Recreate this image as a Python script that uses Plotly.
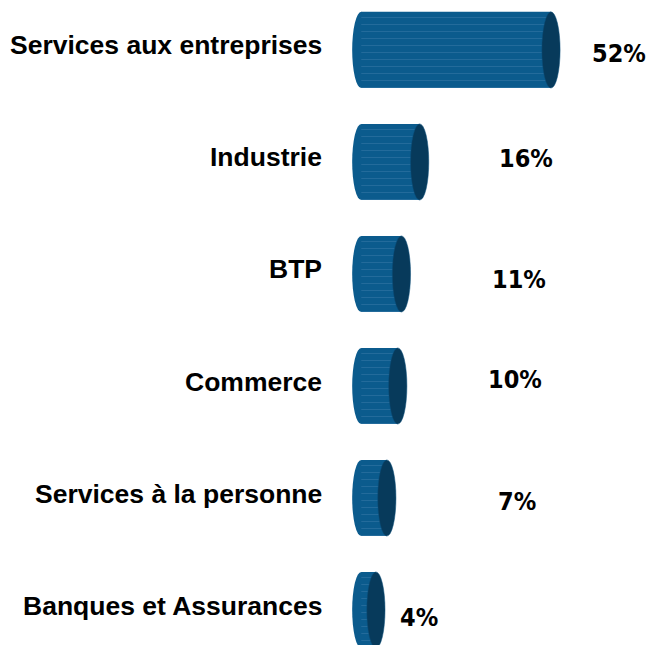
import plotly.graph_objects as go

categories = ["Services aux entreprises", "Industrie", "BTP", "Commerce",
              "Services à la personne", "Banques et Assurances"]
values = [52, 16, 11, 10, 7, 4]
value_labels = ["52%", "16%", "11%", "10%", "7%", "4%"]

# label placement (layout only)
label_x = [70.6, 45.2, 43.3, 42.0, 42.7, 15.7]
label_dy = [0.03, -0.03, 0.05, -0.06, 0.03, 0.07]

BODY = "#0b5b8d"
CAP = "#073a5b"
CAP_HW = 2.5      # half-width of cylinder end, in x units
BAR_W = 0.68

ypos = list(range(len(categories)))

fig = go.Figure()
fig.add_trace(go.Bar(
    x=values, y=ypos, orientation="h", width=BAR_W,
    marker=dict(color=BODY, line=dict(width=0),
                pattern=dict(shape="-", fgcolor="#5b93bb", fgopacity=0.35,
                             size=7, solidity=0.12)),
    hoverinfo="skip",
))

shapes = []
for i, v in enumerate(values):
    # left rounded end
    shapes.append(dict(type="circle", xref="x", yref="y", layer="below",
                       x0=-CAP_HW, x1=CAP_HW, y0=i - BAR_W / 2, y1=i + BAR_W / 2,
                       fillcolor=BODY, line=dict(width=0)))
    # right end cap
    shapes.append(dict(type="circle", xref="x", yref="y", layer="above",
                       x0=v - CAP_HW, x1=v + CAP_HW, y0=i - BAR_W / 2, y1=i + BAR_W / 2,
                       fillcolor=CAP, line=dict(width=0.5, color="#0b4f7a")))

annotations = []
for i, (c, t) in enumerate(zip(categories, value_labels)):
    annotations.append(dict(x=label_x[i], y=i + label_dy[i], xref="x", yref="y",
                            text=t, showarrow=False, xanchor="center", yanchor="middle",
                            font=dict(family="DejaVu Sans Condensed, Liberation Sans Narrow, sans-serif",
                                      size=25, color="#000000", weight="bold")))
    annotations.append(dict(x=0, y=i - 0.04, xref="paper", yref="y", xshift=-28,
                            text=c, showarrow=False, xanchor="right", yanchor="middle",
                            font=dict(family="Liberation Sans, Arial, sans-serif",
                                      size=26.5, color="#000000", weight="bold")))

fig.update_layout(
    width=648, height=645,
    margin=dict(l=352, r=0, t=0, b=0),
    paper_bgcolor="white", plot_bgcolor="white",
    showlegend=False,
    shapes=shapes, annotations=annotations,
    xaxis=dict(range=[-2.55, 78.6], visible=False, fixedrange=True),
    yaxis=dict(range=[5.3125, -0.446], visible=False, fixedrange=True),
)

fig.write_html("out.html", config={"displayModeBar": False},
               post_script="document.body.style.margin='0';document.body.style.overflow='hidden';")
